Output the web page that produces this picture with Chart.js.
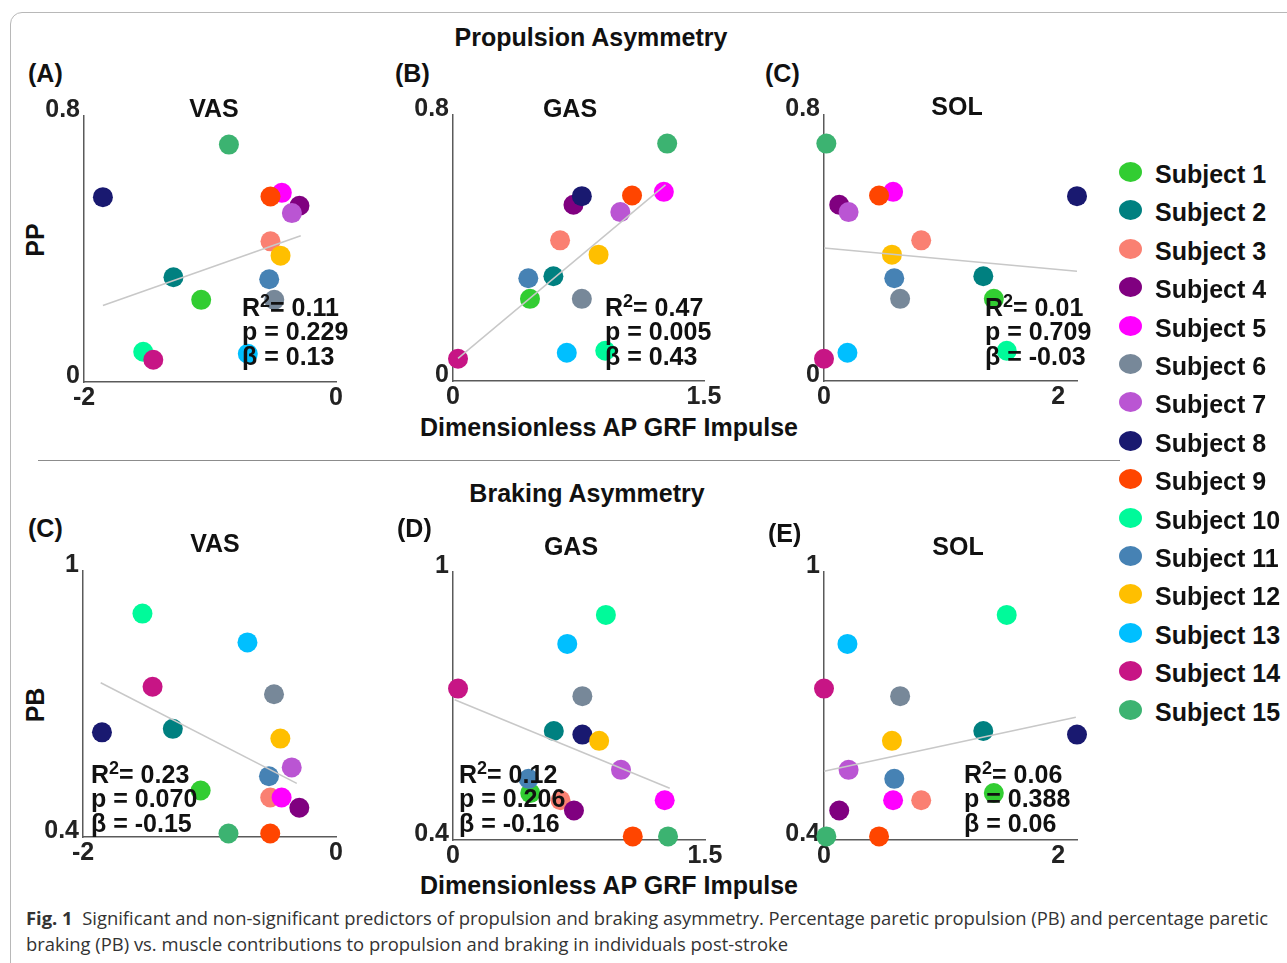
<!DOCTYPE html>
<html>
<head>
<meta charset="utf-8">
<script src="https://cdn.jsdelivr.net/npm/chart.js@4.4.0/dist/chart.umd.min.js"></script>
<style>
    body { margin: 0; width: 1287px; height: 963px; overflow: hidden; position: relative; background: #fff; font-family: "Liberation Sans", Arial, sans-serif; }
    .frame { position: absolute; left: 10px; top: 12px; width: 1300px; height: 1000px; border: 1px solid #b8b8b8; border-radius: 12px; }
    .sep { position: absolute; left: 38px; top: 460px; width: 1082px; height: 0; border-top: 1px solid #8c8c8c; }
    .t { position: absolute; font-weight: bold; font-size: 25px; color: #111; white-space: nowrap; line-height: 1; }
    .t sup { font-size: 18px; position: relative; top: -3px; vertical-align: top; }
    canvas { position: absolute; }
    .dot { position: absolute; width: 23px; height: 20px; border-radius: 50%; }
    .cap { position: absolute; left: 26px; font-family: "Open Sans", sans-serif; font-size: 18.4px; color: #333; white-space: nowrap; line-height: 1; }
</style>
</head>
<body>
<div class="frame"></div>
<div class="sep"></div>
<script>
// DATOS
const subjects = ["Subject 1", "Subject 2", "Subject 3", "Subject 4", "Subject 5", "Subject 6", "Subject 7", "Subject 8",
    "Subject 9", "Subject 10", "Subject 11", "Subject 12", "Subject 13", "Subject 14", "Subject 15"];
const subjectColors = ["#32CD32", "#008080", "#FA8072", "#800080", "#FF00FF", "#778899", "#BA55D3", "#191970",
    "#FF4500", "#00FA9A", "#4682B4", "#FFBF00", "#00BFFF", "#C71585", "#3CB371"];

// impulso AP adimensional por musculo (x)
const vasImpulse = [-1.07, -1.29, -0.52, -0.29, -0.43, -0.49, -0.35, -1.85, -0.52, -1.53, -0.53, -0.44, -0.70, -1.45, -0.85];
const gasImpulse = [0.46, 0.60, 0.64, 0.72, 1.26, 0.77, 1.00, 0.77, 1.07, 0.91, 0.45, 0.87, 0.68, 0.03, 1.28];
const solImpulse = [1.45, 1.36, 0.83, 0.13, 0.59, 0.65, 0.21, 2.16, 0.47, 1.56, 0.60, 0.58, 0.20, 0.00, 0.02];

// asimetria (y)
const ppValues = [0.247, 0.315, 0.423, 0.530, 0.569, 0.247, 0.508, 0.556, 0.558, 0.091, 0.309, 0.380, 0.085, 0.067, 0.714];
const pbValues = [0.505, 0.644, 0.489, 0.466, 0.489, 0.722, 0.557, 0.636, 0.408, 0.904, 0.537, 0.622, 0.839, 0.739, 0.408];

// rectas de regresion [x, y]
const ppFitVas = [[-1.85, 0.23], [-0.28, 0.44]];
const ppFitGas = [[0.03, 0.068], [1.27, 0.59]];
const ppFitSol = [[0.0, 0.40], [2.16, 0.33]];
const pbFitVas = [[-1.86, 0.748], [-0.31, 0.521]];
const pbFitGas = [[0.01, 0.714], [1.29, 0.516]];
const pbFitSol = [[0.0, 0.554], [2.15, 0.675]];

// R2, p, beta
const ppStats = [["0.11", "0.229", "0.13"], ["0.47", "0.005", "0.43"], ["0.01", "0.709", "-0.03"]];
const pbStats = [["0.23", "0.070", "-0.15"], ["0.12", "0.206", "-0.16"], ["0.06", "0.388", "0.06"]];

// ticks
const vasTicks = [-2, 0];
const gasTicks = [0, 1.5];
const solTicks = [0, 2];
const ppTicks = [0, 0.8];
const pbTicks = [0.4, 1];

// TEXTOS
function addText(html, x, y, align, extra) {
    const d = document.createElement("div");
    d.className = "t";
    d.innerHTML = html;
    d.style.left = x + "px";
    d.style.top = y + "px";
    d.style.transform = (align === "center" ? "translate(-50%,-50%)" : "translate(0,-50%)") + (extra || "");
    document.body.appendChild(d);
    return d;
}

addText("Propulsion Asymmetry", 591, 37, "center");
addText("Braking Asymmetry", 587, 493, "center");
addText("Dimensionless AP GRF Impulse", 609, 427, "center");
addText("Dimensionless AP GRF Impulse", 609, 885, "center");
addText("PP", 35, 240, "center", " rotate(-90deg)");
addText("PB", 35, 705, "center", " rotate(-90deg)");

// GRAFICOS
const tickFont = { family: "Liberation Sans", size: 25, weight: "bold" };

function makePanel(p) {
    const yw = 70, padT = 20, padR = 26, xh = 44;
    const w = p.area[2] - p.area[0] + yw + padR;
    const h = p.area[3] - p.area[1] + padT + xh;
    const canvas = document.createElement("canvas");
    canvas.width = w;
    canvas.height = h;
    canvas.style.left = (p.area[0] - yw) + "px";
    canvas.style.top = (p.area[1] - padT) + "px";
    document.body.appendChild(canvas);

    new Chart(canvas, {
        type: "scatter",
        data: {
            datasets: [{
                type: "line",
                data: p.fit.map(([x, y]) => ({ x, y })),
                borderColor: "#c8c8c8",
                borderWidth: 1.5,
                pointRadius: 0,
                clip: false
            }, {
                data: p.xs.map((x, i) => ({ x: x, y: p.ys[i] })),
                backgroundColor: subjectColors,
                borderWidth: 0,
                pointRadius: 10,
                pointHoverRadius: 10,
                clip: false
            }]
        },
        options: {
            responsive: false,
            animation: false,
            layout: { padding: { top: padT, right: padR, left: 0, bottom: 0 } },
            plugins: { legend: { display: false }, tooltip: { enabled: false } },
            scales: {
                x: {
                    type: "linear",
                    min: p.xTicks[0],
                    max: p.xMax,
                    afterBuildTicks: s => { s.ticks = p.xTicks.map(v => ({ value: v })); },
                    afterFit: s => { s.height = xh; },
                    grid: { display: false, drawTicks: false },
                    border: { display: true, color: "#5a5a5a", width: 1.5 },
                    ticks: { color: "#222", font: tickFont, padding: 1, maxRotation: 0, autoSkip: false, callback: v => String(v) }
                },
                y: {
                    type: "linear",
                    min: p.yTicks[0],
                    max: p.yTicks[1],
                    afterBuildTicks: s => { s.ticks = p.yTicks.map(v => ({ value: v })); },
                    afterFit: s => { s.width = yw; },
                    grid: { display: false, drawTicks: false },
                    border: { display: true, color: "#5a5a5a", width: 1.5 },
                    ticks: { color: "#222", font: tickFont, padding: 4, labelOffset: -6, autoSkip: false, callback: v => String(v) }
                }
            }
        }
    });

    addText(p.letter, p.letterPos[0], p.letterPos[1], "left");
    addText(p.title, p.titlePos[0], p.titlePos[1], "center");
    const st = p.stats;
    addText("R<sup>2</sup>= " + st[0], p.statPos[0], p.statPos[1], "left");
    addText("p = " + st[1], p.statPos[0], p.statPos[1] + 24, "left");
    addText("\u03b2 = " + st[2], p.statPos[0], p.statPos[1] + 49, "left");
}

const panels = [
    { letter: "(A)", letterPos: [28, 73], title: "VAS", titlePos: [214, 108], area: [84, 116, 336, 382],
      xs: vasImpulse, ys: ppValues, fit: ppFitVas, xTicks: vasTicks, xMax: 0, yTicks: ppTicks, stats: ppStats[0], statPos: [242, 307] },
    { letter: "(B)", letterPos: [395, 73], title: "GAS", titlePos: [570, 108], area: [453, 115, 704, 381],
      xs: gasImpulse, ys: ppValues, fit: ppFitGas, xTicks: gasTicks, xMax: 1.5, yTicks: ppTicks, stats: ppStats[1], statPos: [605, 307] },
    { letter: "(C)", letterPos: [765, 73], title: "SOL", titlePos: [957, 106], area: [824, 115, 1077, 381],
      xs: solImpulse, ys: ppValues, fit: ppFitSol, xTicks: solTicks, xMax: 2.16, yTicks: ppTicks, stats: ppStats[2], statPos: [985, 307] },
    { letter: "(C)", letterPos: [28, 528], title: "VAS", titlePos: [215, 543], area: [83, 571, 336, 837],
      xs: vasImpulse, ys: pbValues, fit: pbFitVas, xTicks: vasTicks, xMax: 0, yTicks: pbTicks, stats: pbStats[0], statPos: [91, 774] },
    { letter: "(D)", letterPos: [397, 528], title: "GAS", titlePos: [571, 546], area: [453, 572, 705, 840],
      xs: gasImpulse, ys: pbValues, fit: pbFitGas, xTicks: gasTicks, xMax: 1.5, yTicks: pbTicks, stats: pbStats[1], statPos: [459, 774] },
    { letter: "(E)", letterPos: [768, 533], title: "SOL", titlePos: [958, 546], area: [824, 572, 1077, 840],
      xs: solImpulse, ys: pbValues, fit: pbFitSol, xTicks: solTicks, xMax: 2.16, yTicks: pbTicks, stats: pbStats[2], statPos: [964, 774] }
];

panels.forEach(makePanel);

// LEYENDA
subjects.forEach((name, i) => {
    const cy = 172 + 38.4 * i;
    const dot = document.createElement("div");
    dot.className = "dot";
    dot.style.left = "1119px";
    dot.style.top = (cy - 10) + "px";
    dot.style.background = subjectColors[i];
    document.body.appendChild(dot);
    addText(name, 1155, cy + 2, "left");
});

// PIE DE FIGURA
const cap1 = document.createElement("div");
cap1.className = "cap";
cap1.style.top = "909px";
cap1.innerHTML = "<b>Fig. 1</b>&nbsp;&nbsp;Significant and non-significant predictors of propulsion and braking asymmetry. Percentage paretic propulsion (PB) and percentage paretic";
document.body.appendChild(cap1);
const cap2 = document.createElement("div");
cap2.className = "cap";
cap2.style.top = "935px";
cap2.textContent = "braking (PB) vs. muscle contributions to propulsion and braking in individuals post-stroke";
document.body.appendChild(cap2);
</script>
</body>
</html>
